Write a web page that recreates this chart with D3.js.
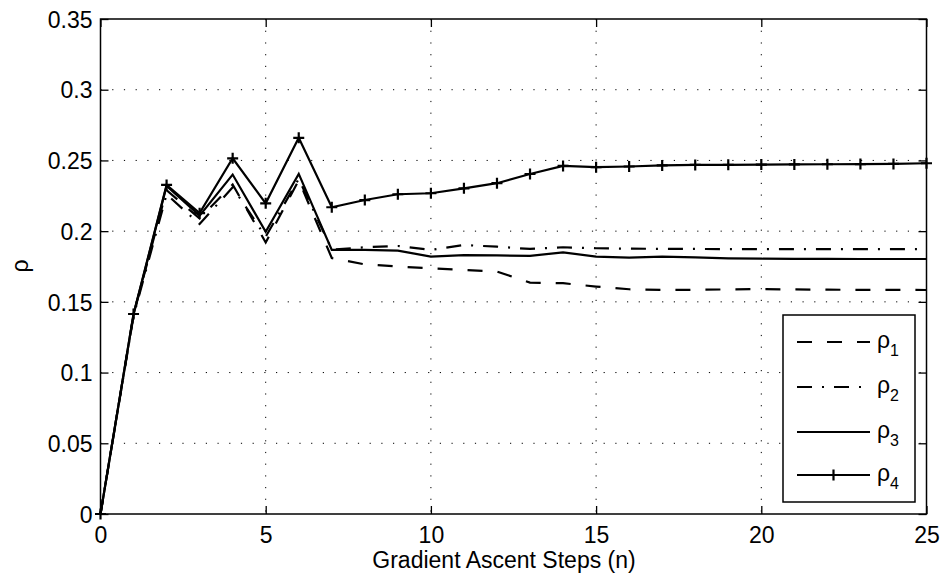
<!DOCTYPE html>
<html>
<head>
<meta charset="utf-8">
<script src="https://cdn.jsdelivr.net/npm/d3@7"></script>
<style>
  body { margin: 0; background: #fff; }
  svg { display: block; font-family: "Liberation Sans", Arial, sans-serif; }
</style>
</head>
<body>
<div id="chart"></div>
<script>
// Data
const steps = d3.range(0, 26);
const rho1 = [0, 0.141, 0.229, 0.209, 0.233, 0.192, 0.236, 0.181, 0.1765, 0.175, 0.1737, 0.1726, 0.1714, 0.1636, 0.1632, 0.1608, 0.1589, 0.1585, 0.1585, 0.1588, 0.159, 0.1588, 0.1586, 0.1585, 0.1585, 0.1584];
const rho2 = [0, 0.14, 0.226, 0.205, 0.231, 0.196, 0.237, 0.187, 0.1886, 0.1895, 0.1867, 0.1902, 0.189, 0.1874, 0.1886, 0.1879, 0.1876, 0.1875, 0.1874, 0.1873, 0.1873, 0.1873, 0.1873, 0.1873, 0.1873, 0.1873];
const rho3 = [0, 0.141, 0.232, 0.211, 0.24, 0.1996, 0.2405, 0.1867, 0.1867, 0.1862, 0.182, 0.183, 0.1828, 0.1825, 0.185, 0.182, 0.1813, 0.182, 0.1815, 0.1808, 0.1805, 0.1804, 0.1804, 0.1803, 0.1803, 0.1803];
const rho4 = [0, 0.1414, 0.2327, 0.2127, 0.2515, 0.2197, 0.266, 0.2169, 0.222, 0.2261, 0.2268, 0.2303, 0.2339, 0.2404, 0.2461, 0.2452, 0.2457, 0.2465, 0.2468, 0.2469, 0.2471, 0.2472, 0.2473, 0.2474, 0.2475, 0.248];
const seriesNames = ["1", "2", "3", "4"];
const xTicks = [0, 5, 10, 15, 20, 25];
const yTicks = [0, 0.05, 0.1, 0.15, 0.2, 0.25, 0.3, 0.35];

const width = 944, height = 588;
const plotLeft = 100.5, plotRight = 926.5, plotTop = 19, plotBottom = 514;

const svg = d3.select("#chart").append("svg")
  .attr("width", width)
  .attr("height", height);

const x = d3.scaleLinear().domain([0, 25]).range([plotLeft, plotRight]);
const y = d3.scaleLinear().domain([0, 0.35]).range([plotBottom, plotTop]);

// Grid (dotted)
svg.append("g")
  .selectAll("line")
  .data(xTicks.slice(1, -1))
  .join("line")
  .attr("x1", d => x(d)).attr("x2", d => x(d))
  .attr("y1", plotTop).attr("y2", plotBottom)
  .attr("stroke", "#000").attr("stroke-width", 1)
  .attr("stroke-dasharray", "1.2,10.5");
svg.append("g")
  .selectAll("line")
  .data(yTicks.slice(1, -1))
  .join("line")
  .attr("x1", plotLeft).attr("x2", plotRight)
  .attr("y1", d => y(d)).attr("y2", d => y(d))
  .attr("stroke", "#000").attr("stroke-width", 1)
  .attr("stroke-dasharray", "1.2,10.5");

// Axes: ticks inside, on all four sides
const tickLen = 8;
const axisBottom = d3.axisBottom(x).tickValues(xTicks).tickSizeInner(-tickLen).tickSizeOuter(0).tickPadding(13);
const axisLeft = d3.axisLeft(y).tickValues(yTicks).tickFormat(d => String(+d.toFixed(2))).tickSizeInner(-tickLen).tickSizeOuter(0).tickPadding(8);
const axisTop = d3.axisTop(x).tickValues(xTicks).tickSizeInner(-tickLen).tickSizeOuter(0).tickFormat("");
const axisRight = d3.axisRight(y).tickValues(yTicks).tickSizeInner(-tickLen).tickSizeOuter(0).tickFormat("");

const gx = svg.append("g").attr("transform", `translate(0,${plotBottom})`).call(axisBottom);
const gy = svg.append("g").attr("transform", `translate(${plotLeft},0)`).call(axisLeft);
svg.append("g").attr("transform", `translate(0,${plotTop})`).call(axisTop);
svg.append("g").attr("transform", `translate(${plotRight},0)`).call(axisRight);

svg.selectAll(".domain").remove();
svg.selectAll(".tick line").attr("stroke", "#000").attr("stroke-width", 1.3);
svg.selectAll(".tick text")
  .attr("font-size", "23px")
  .attr("font-family", "Liberation Sans, Arial, sans-serif")
  .attr("fill", "#000");
gy.selectAll(".tick text").attr("dy", "0.36em");

// Box
svg.append("rect")
  .attr("x", plotLeft).attr("y", plotTop)
  .attr("width", plotRight - plotLeft).attr("height", plotBottom - plotTop)
  .attr("fill", "none").attr("stroke", "#000").attr("stroke-width", 1.5);

// Lines
const styles = [
  { data: rho1, dash: "15,15" },
  { data: rho2, dash: "15,10,2,10" },
  { data: rho3, dash: null },
  { data: rho4, dash: null, marker: true }
];

const line = d3.line()
  .x((d, i) => x(steps[i]))
  .y(d => y(d));

styles.forEach(s => {
  svg.append("path")
    .attr("d", line(s.data))
    .attr("fill", "none")
    .attr("stroke", "#000")
    .attr("stroke-width", 2.2)
    .attr("stroke-linejoin", "miter")
    .attr("stroke-dasharray", s.dash);
});

// "+" markers for rho4
const m = 5.5;
svg.append("g")
  .selectAll("path")
  .data(rho4)
  .join("path")
  .attr("d", (d, i) => `M${x(steps[i]) - m},${y(d)}h${2 * m}M${x(steps[i])},${y(d) - m}v${2 * m}`)
  .attr("stroke", "#000")
  .attr("stroke-width", 2.2);

// Axis labels
svg.append("text")
  .attr("x", 504).attr("y", 568)
  .attr("text-anchor", "middle")
  .attr("font-size", "23px")
  .text("Gradient Ascent Steps (n)");

svg.append("text")
  .attr("transform", "translate(28,266) rotate(-90)")
  .attr("text-anchor", "middle")
  .attr("font-size", "23px")
  .text("ρ");

// Legend
const lg = svg.append("g");
lg.append("rect")
  .attr("x", 783).attr("y", 315)
  .attr("width", 132).attr("height", 187)
  .attr("fill", "#fff").attr("stroke", "#000").attr("stroke-width", 1.5);

const legendY = [342, 387, 432, 475];
styles.forEach((s, i) => {
  const ly = legendY[i];
  lg.append("line")
    .attr("x1", 797).attr("x2", 870)
    .attr("y1", ly).attr("y2", ly)
    .attr("stroke", "#000").attr("stroke-width", 2.2)
    .attr("stroke-dasharray", s.dash);
  if (s.marker) {
    lg.append("path")
      .attr("d", `M${833.5 - m},${ly}h${2 * m}M833.5,${ly - m}v${2 * m}`)
      .attr("stroke", "#000").attr("stroke-width", 2.2);
  }
  const t = lg.append("text")
    .attr("x", 877).attr("y", ly + 6)
    .attr("font-size", "23px");
  t.append("tspan").text("ρ");
  t.append("tspan").attr("font-size", "16px").attr("dy", 8).text(seriesNames[i]);
});
</script>
</body>
</html>
